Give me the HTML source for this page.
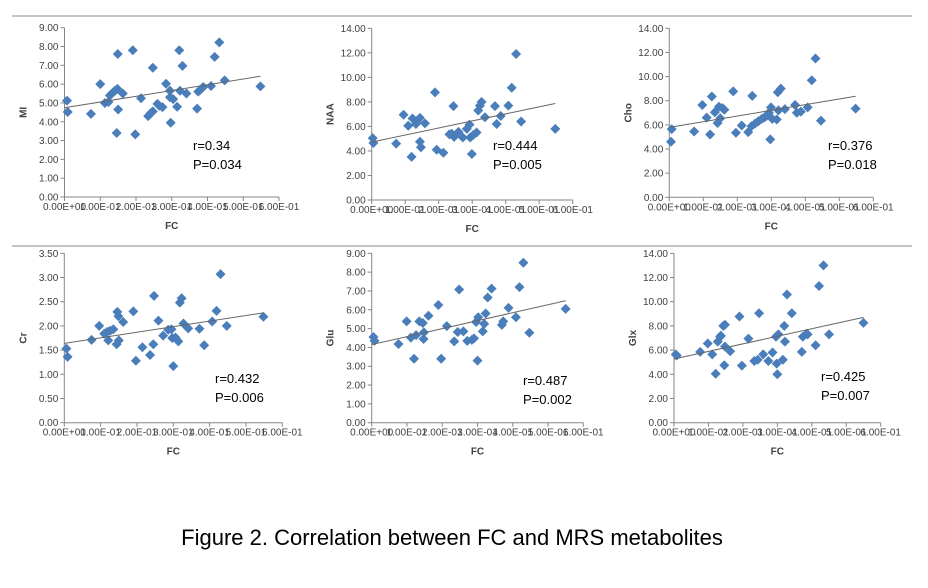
<!DOCTYPE html>
<html><head><meta charset="utf-8"><style>
body{margin:0;background:#fff;width:928px;height:588px;overflow:hidden;font-family:"Liberation Sans",sans-serif}
svg{position:absolute;left:0;top:0}
</style></head><body>
<svg id="fig" width="928" height="588">
<line x1="12" y1="16" x2="912" y2="16" stroke="#888" stroke-width="1"/>
<line x1="12" y1="246" x2="912" y2="246" stroke="#888" stroke-width="1"/>
<text x="452" y="545" font-size="22" text-anchor="middle" fill="#000" font-family="Liberation Sans, sans-serif">Figure 2. Correlation between FC and MRS metabolites</text>
</svg>
<script>
const xTicks=["0.00E+00","1.00E-01","2.00E-01","3.00E-01","4.00E-01","5.00E-01","6.00E-01"];
const fcMI=[.007,.009,.074,.100,.113,.123,.127,.135,.141,.148,.149,.150,.146,.163,.191,.198,.214,.234,.241,.247,.247,.260,.265,.274,.284,.295,.295,.297,.304,.315,.321,.323,.330,.341,.371,.374,.380,.388,.410,.420,.433,.448,.548];
const valMI=[5.12,4.52,4.42,6.0,5.0,5.05,5.4,5.55,5.65,5.75,7.6,4.65,3.4,5.5,7.8,3.33,5.25,4.3,4.45,6.87,4.55,4.95,4.85,4.78,6.02,5.65,5.3,3.95,5.2,4.8,7.8,5.65,6.97,5.5,4.7,5.6,5.7,5.85,5.9,7.45,8.22,6.2,5.88];
const fcNAA=[.003,.005,.073,.095,.109,.119,.122,.132,.134,.144,.144,.147,.159,.189,.194,.214,.232,.239,.244,.246,.259,.272,.284,.292,.294,.299,.303,.313,.318,.323,.328,.338,.368,.373,.385,.408,.418,.431,.446,.548];
const valNAA=[5.05,4.65,4.6,6.95,6.05,3.52,6.65,6.2,6.4,6.7,4.75,4.3,6.25,8.78,4.1,3.85,5.35,5.4,7.65,5.15,5.55,5.1,5.8,6.15,5.1,3.75,5.3,5.5,7.3,7.7,8.0,6.75,7.65,6.2,6.85,7.7,9.15,11.9,6.4,5.8];
const fcCho=[.007,.005,.073,.097,.110,.120,.125,.134,.142,.146,.150,.156,.162,.188,.196,.213,.232,.244,.242,.252,.262,.272,.279,.286,.293,.299,.297,.303,.316,.319,.321,.328,.340,.370,.375,.387,.407,.419,.430,.446,.548];
const valCho=[5.65,4.6,5.45,7.65,6.6,5.2,8.35,7.05,6.15,7.5,6.55,7.4,7.25,8.78,5.35,5.95,5.4,8.4,5.9,6.1,6.3,6.5,6.6,6.75,7.0,7.45,4.8,6.5,6.45,8.7,7.2,9.0,7.3,7.65,7.0,7.1,7.45,9.7,11.5,6.35,7.35];
const fcCr=[.006,.009,.075,.096,.110,.118,.121,.126,.135,.144,.146,.149,.150,.162,.190,.197,.215,.236,.245,.247,.259,.272,.286,.295,.297,.300,.306,.314,.318,.323,.328,.341,.372,.385,.407,.419,.430,.447,.548];
const valCr=[1.53,1.36,1.71,2.0,1.84,1.88,1.7,1.9,1.93,1.62,2.29,2.2,1.7,2.08,2.3,1.28,1.56,1.4,1.62,2.62,2.11,1.8,1.92,1.93,1.75,1.17,1.76,1.68,2.48,2.57,2.05,1.95,1.94,1.6,2.09,2.31,3.07,2.0,2.19];
const fcGlu=[.005,.008,.076,.099,.111,.120,.126,.135,.145,.147,.148,.161,.189,.197,.213,.234,.244,.248,.260,.271,.284,.290,.296,.300,.302,.315,.319,.323,.329,.340,.369,.373,.388,.409,.419,.430,.447,.550];
const valGlu=[4.55,4.35,4.18,5.38,4.52,3.4,4.65,5.38,5.3,4.45,4.8,5.68,6.25,3.4,5.13,4.32,4.82,7.08,4.85,4.35,4.4,4.48,5.35,3.3,5.6,4.85,5.25,5.8,6.65,7.12,5.2,5.38,6.1,5.6,7.2,8.5,4.78,6.05];
const fcGlx=[.005,.008,.076,.098,.111,.121,.127,.134,.136,.143,.148,.146,.148,.163,.190,.197,.216,.233,.243,.247,.259,.274,.286,.296,.298,.300,.303,.316,.320,.322,.328,.342,.371,.374,.385,.388,.411,.421,.434,.450,.550];
const valGlx=[5.65,5.55,5.85,6.55,5.65,4.05,6.7,7.1,7.2,8.0,8.1,4.75,6.3,5.9,8.78,4.72,6.95,5.1,5.2,9.05,5.65,5.1,5.8,7.1,4.88,4.0,7.3,5.2,8.0,6.7,10.6,9.05,5.85,7.1,7.35,7.3,6.4,11.3,13.0,7.3,8.25];
const statsR=["r=0.34","r=0.444","r=0.376","r=0.432","r=0.487","r=0.425"];
const statsP=["P=0.034","P=0.005","P=0.018","P=0.006","P=0.002","P=0.007"];

const NS="http://www.w3.org/2000/svg";
const svg=document.getElementById('fig');
function mk(tag,attrs,parent){const e=document.createElementNS(NS,tag);for(const k in attrs)e.setAttribute(k,attrs[k]);(parent||svg).appendChild(e);return e;}

const panels=[
 {key:'mi',label:'MI',fc:fcMI,v:valMI,ox:64.5,oy:197,top:27.7,x6:279,ymax:9,step:1,sx:193,sy:150},
 {key:'naa',label:'NAA',fc:fcNAA,v:valNAA,ox:371.7,oy:200,top:28.3,x6:572.7,ymax:14,step:2,sx:493,sy:150},
 {key:'cho',label:'Cho',fc:fcCho,v:valCho,ox:669.3,oy:197.3,top:28.3,x6:873.3,ymax:14,step:2,sx:828,sy:150},
 {key:'cr',label:'Cr',fc:fcCr,v:valCr,ox:64.3,oy:422.7,top:253.3,x6:282.3,ymax:3.5,step:0.5,sx:215,sy:383},
 {key:'glu',label:'Glu',fc:fcGlu,v:valGlu,ox:371.7,oy:422.7,top:253.3,x6:583.3,ymax:9,step:1,sx:523,sy:385},
 {key:'glx',label:'Glx',fc:fcGlx,v:valGlx,ox:674,oy:422.7,top:253.3,x6:880.7,ymax:14,step:2,sx:821,sy:381}
];

panels.forEach((p,i)=>{
 const g=mk('g',{});
 
 
 const X=f=>p.ox+(p.x6-p.ox)*f/0.6;
 const Y=v=>p.oy-(p.oy-p.top)*v/p.ymax;
 const ax=mk('g',{},g);
 
 
 mk('line',{x1:p.ox,y1:p.top,x2:p.ox,y2:p.oy,stroke:'#868686','stroke-width':1},ax);
 mk('line',{x1:p.ox,y1:p.oy,x2:p.x6,y2:p.oy,stroke:'#868686','stroke-width':1},ax);
 const n=Math.round(p.ymax/p.step);
 for(let k=0;k<=n;k++){
  const v=k*p.step,y=Y(v);
  mk('line',{x1:p.ox-4,y1:y,x2:p.ox,y2:y,stroke:'#868686'},ax);
  const t=mk('text',{x:p.ox-6,y:y+3.5,'font-size':10,'text-anchor':'end',fill:'#404040'},ax);
  t.textContent=v.toFixed(2);
  
  
 }
 xTicks.forEach((lab,k)=>{
  const x=X(k*0.1);
  mk('line',{x1:x,y1:p.oy,x2:x,y2:p.oy+4,stroke:'#868686'},ax);
  const t=mk('text',{x:x,y:p.oy+13,'font-size':10,'text-anchor':'middle',fill:'#404040'},ax);
  t.textContent=lab;
  
  
 });
 const xt=mk('text',{x:(p.ox+p.x6)/2,y:p.oy+32,'font-size':10,'font-weight':'bold','text-anchor':'middle',fill:'#404040'},g);
 xt.textContent='FC';
 
 
 const yc=(p.top+p.oy)/2;
 const yt=mk('text',{x:p.ox-38,y:yc,'font-size':10,'font-weight':'bold','text-anchor':'middle',fill:'#404040',transform:`rotate(-90 ${p.ox-38} ${yc})`},g);
 yt.textContent=p.label;
 
 
 p.fc.forEach((f,j)=>{
  const x=X(f),y=Y(p.v[j]);
  const d=mk('path',{d:`M${x} ${y-5}L${x+5} ${y}L${x} ${y+5}L${x-5} ${y}Z`,fill:'#4a7ebb'},g);
  
  
 });
 let sx=0,sy=0,sxx=0,sxy=0,m=p.fc.length,xmax=0;
 p.fc.forEach((f,j)=>{sx+=f;sy+=p.v[j];sxx+=f*f;sxy+=f*p.v[j];if(f>xmax)xmax=f;});
 const b=(m*sxy-sx*sy)/(m*sxx-sx*sx),a=(sy-b*sx)/m;
 const ln=mk('line',{x1:X(0),y1:Y(a),x2:X(xmax),y2:Y(a+b*xmax),stroke:'#666','stroke-width':1},g);
 
 
 const r=mk('text',{x:p.sx,y:p.sy,'font-size':13,fill:'#000'},g);
 r.textContent=statsR[i];
 
 
 const pv=mk('text',{x:p.sx,y:p.sy+19,'font-size':13,fill:'#000'},g);
 pv.textContent=statsP[i];
 
 
});
</script>
</body></html>
